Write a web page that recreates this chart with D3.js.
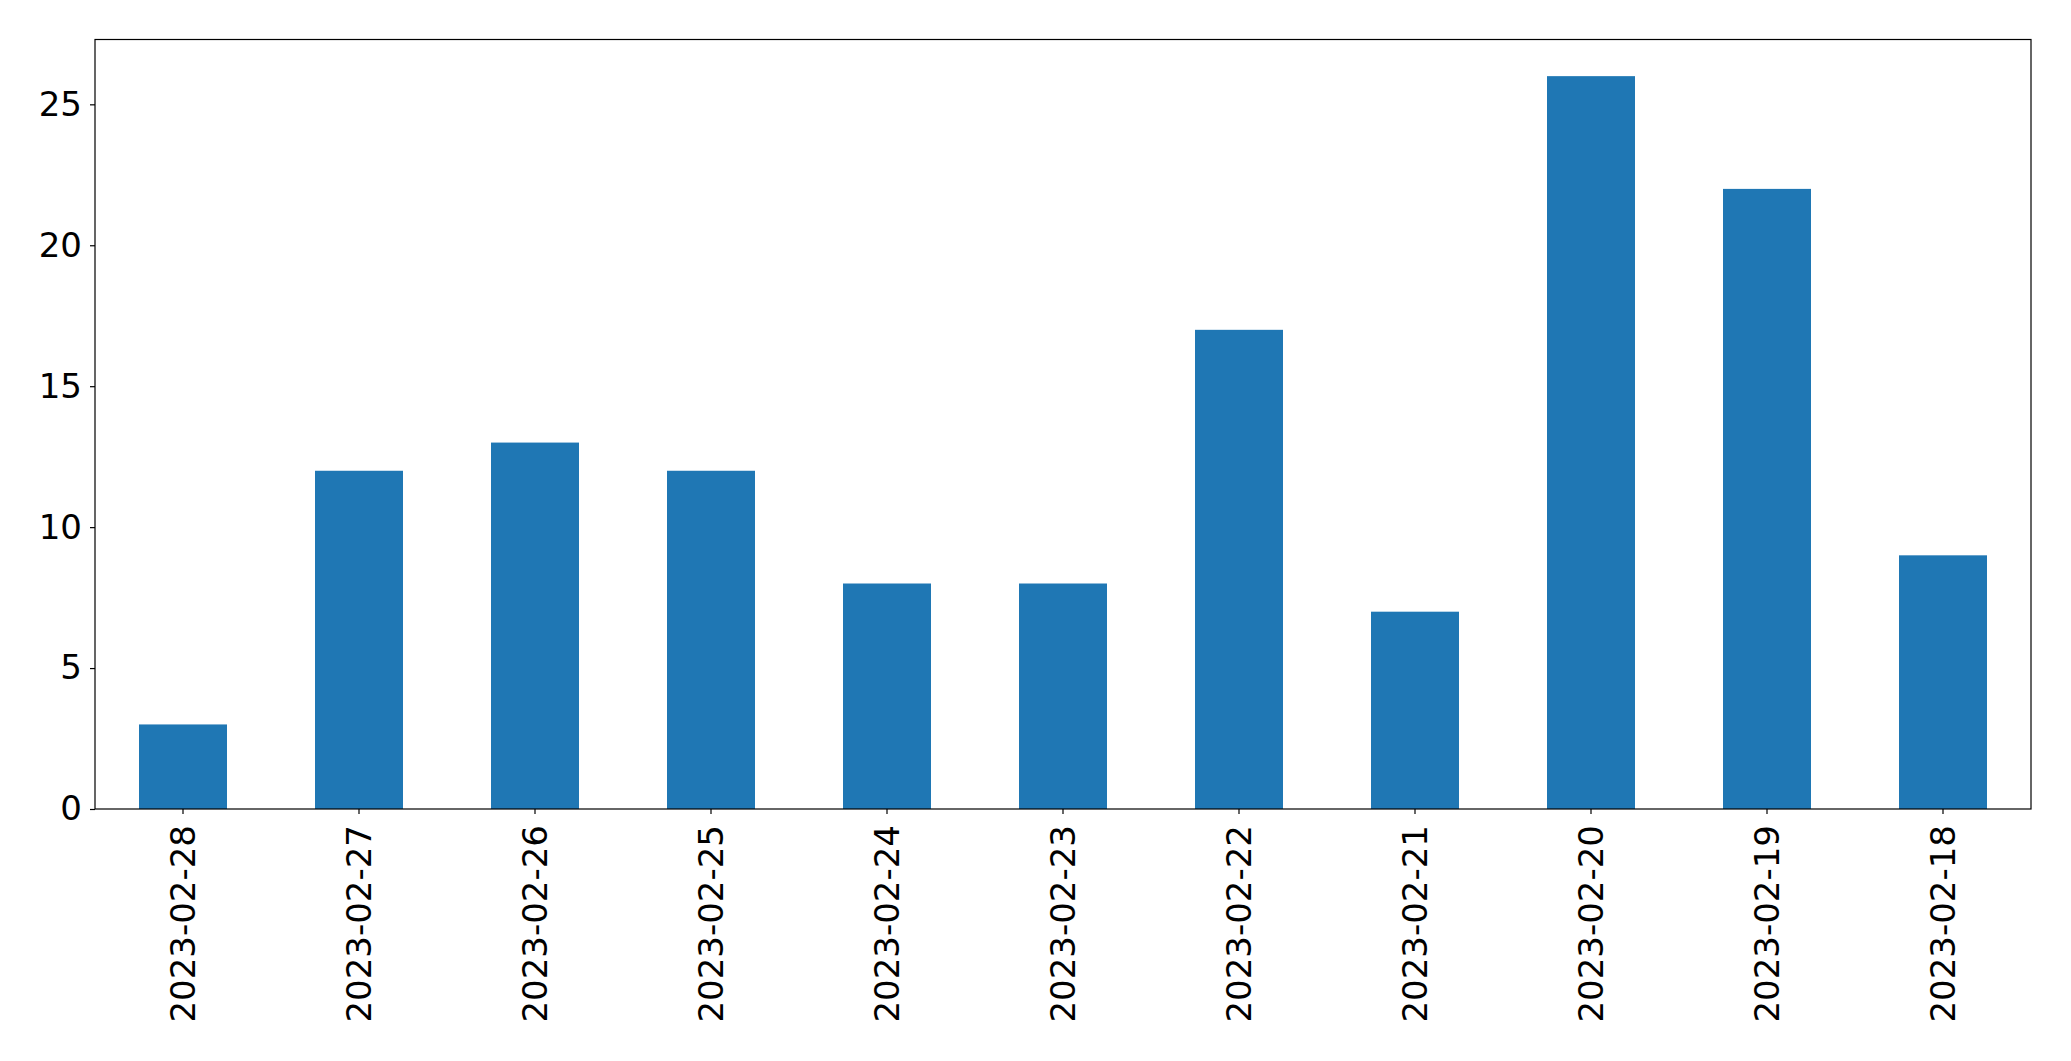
<!DOCTYPE html>
<html>
<head>
<meta charset="utf-8">
<script src="https://cdn.jsdelivr.net/npm/d3@7"></script>
<style>
  body { margin: 0; background: #fff; }
  svg { display: block; }
</style>
</head>
<body>
<div id="chart"></div>
<script>
'use strict'

// data
const dates = ['2023-02-28', '2023-02-27', '2023-02-26', '2023-02-25', '2023-02-24', '2023-02-23',
               '2023-02-22', '2023-02-21', '2023-02-20', '2023-02-19', '2023-02-18']
const counts = [3, 12, 13, 12, 8, 8, 17, 7, 26, 22, 9]
const yTicks = [0, 5, 10, 15, 20, 25]

const svgWidth = 2071
const svgHeight = 1061
const margin = { left: 95, right: 40, top: 39.5, bottom: 252 }
const width = svgWidth - margin.left - margin.right
const height = svgHeight - margin.top - margin.bottom
const fontSize = 34

const svg = d3.select('#chart').append('svg')
    .attr('width', svgWidth)
    .attr('height', svgHeight)
    .style('font-family', '"DejaVu Sans", sans-serif')

const g = svg.append('g')
    .attr('transform', 'translate(' + margin.left + ',' + margin.top + ')')

const x = d3.scaleBand()
    .domain(dates)
    .range([0, width])
    .paddingInner(0.5)
    .paddingOuter(0.25)

const yMax = d3.max(counts) * 1.05
const y = d3.scaleLinear()
    .domain([0, yMax])
    .range([height, 0])

// bars
g.selectAll('rect.bar')
    .data(dates)
    .join('rect')
    .attr('class', 'bar')
    .attr('x', d => x(d))
    .attr('width', x.bandwidth())
    .attr('y', (d, i) => y(counts[i]))
    .attr('height', (d, i) => y(0) - y(counts[i]))
    .attr('fill', '#1f77b4')

// y axis
const yAxis = g.append('g')
    .call(d3.axisLeft(y).tickValues(yTicks).tickSize(5).tickPadding(8).tickFormat(d3.format('d')))
yAxis.select('.domain').remove()
yAxis.selectAll('text').attr('font-size', fontSize).attr('fill', '#000').attr('font-family', '"DejaVu Sans", sans-serif')
yAxis.selectAll('line').attr('stroke', '#000').attr('stroke-width', 1.2)

// x axis
const xAxis = g.append('g')
    .attr('transform', 'translate(0,' + height + ')')
    .call(d3.axisBottom(x).tickSize(5).tickPadding(12))
xAxis.select('.domain').remove()
xAxis.selectAll('line').attr('stroke', '#000').attr('stroke-width', 1.2)
xAxis.selectAll('text')
    .attr('font-size', fontSize)
    .attr('fill', '#000')
    .attr('font-family', '"DejaVu Sans", sans-serif')
    .attr('transform', 'rotate(-90)')
    .attr('text-anchor', 'end')
    .attr('dy', '0.35em')
    .attr('x', -16)
    .attr('y', 0)

// frame
g.append('rect')
    .attr('width', width)
    .attr('height', height)
    .attr('fill', 'none')
    .attr('stroke', '#000')
    .attr('stroke-width', 1.2)
</script>
</body>
</html>
